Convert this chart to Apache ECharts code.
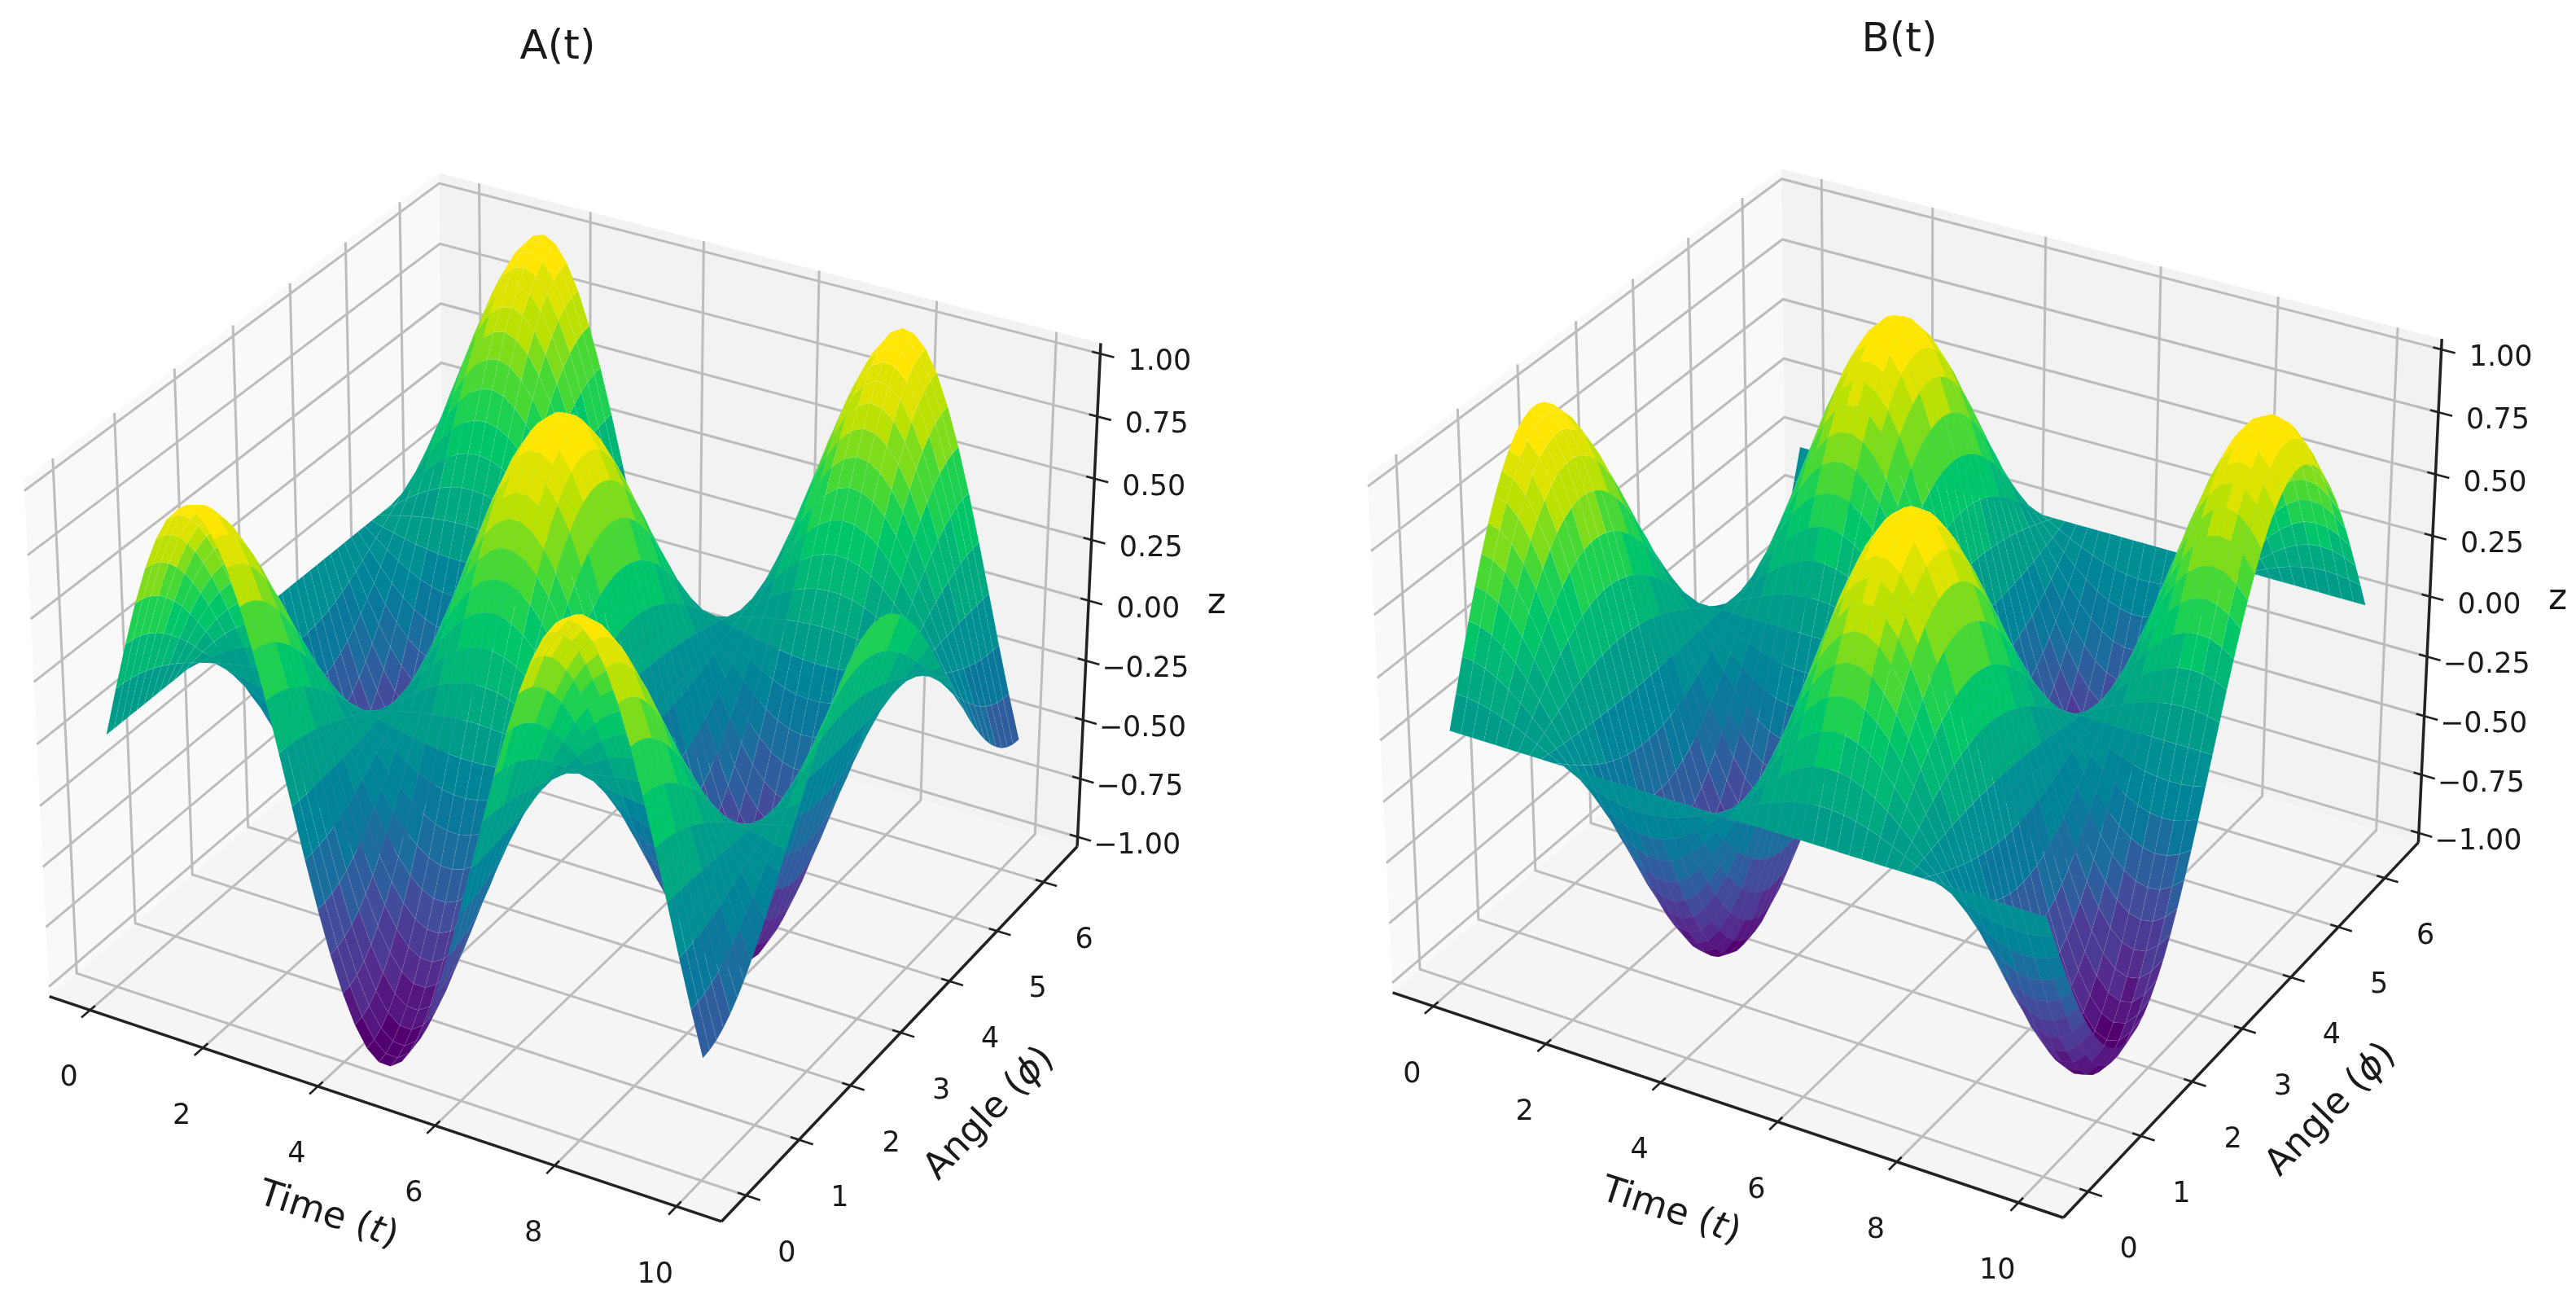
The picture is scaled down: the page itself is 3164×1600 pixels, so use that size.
<!DOCTYPE html>
<html>
<head>
<meta charset="utf-8">
<title>A(t) and B(t)</title>
<script src="https://cdn.jsdelivr.net/npm/echarts@6/dist/echarts.min.js"></script>
<style>
  html, body { margin: 0; padding: 0; background: #fff; }
  #chart { width: 3164px; height: 1600px; }
</style>
</head>
<body>
<div id="chart"></div>
<script>
// sample positions along the two axes
var timeSamples = [0,0.2,0.4,0.6,0.8,1,1.2,1.4,1.6,1.8,2,2.2,2.4,2.6,2.8,3,3.2,3.4,3.6,3.8,4,4.2,4.4,4.6,4.8,5,5.2,5.4,5.6,5.8,6,6.2,6.4,6.6,6.8,7,7.2,7.4,7.6,7.8,8,8.2,8.4,8.6,8.8,9,9.2,9.4,9.6,9.8,10];
var angleSamples = [0,0.126,0.251,0.377,0.503,0.628,0.754,0.88,1.005,1.131,1.257,1.382,1.508,1.634,1.759,1.885,2.011,2.136,2.262,2.388,2.513,2.639,2.765,2.89,3.016,3.142,3.267,3.393,3.519,3.644,3.77,3.896,4.021,4.147,4.273,4.398,4.524,4.65,4.775,4.901,5.027,5.152,5.278,5.404,5.529,5.655,5.781,5.906,6.032,6.158,6.283];

// A(t): height profile along time and along angle, the surface is their product
var aTimeProfile = [0,0.199,0.389,0.565,0.717,0.841,0.932,0.985,1,0.974,0.909,0.808,0.675,0.516,0.335,0.141,-0.058,-0.256,-0.443,-0.612,-0.757,-0.872,-0.952,-0.994,-0.996,-0.959,-0.883,-0.773,-0.631,-0.465,-0.279,-0.083,0.117,0.312,0.494,0.657,0.794,0.899,0.968,0.999,0.989,0.941,0.855,0.735,0.585,0.412,0.223,0.025,-0.175,-0.366,-0.544];
var aAngleProfile = [1,0.992,0.969,0.93,0.876,0.809,0.729,0.637,0.536,0.426,0.309,0.187,0.063,-0.063,-0.187,-0.309,-0.426,-0.536,-0.637,-0.729,-0.809,-0.876,-0.93,-0.969,-0.992,-1,-0.992,-0.969,-0.93,-0.876,-0.809,-0.729,-0.637,-0.536,-0.426,-0.309,-0.187,-0.063,0.063,0.187,0.309,0.426,0.536,0.637,0.729,0.809,0.876,0.93,0.969,0.992,1];

// B(t): same idea
var bTimeProfile = [1,0.98,0.921,0.825,0.697,0.54,0.362,0.17,-0.029,-0.227,-0.416,-0.589,-0.737,-0.857,-0.942,-0.99,-0.998,-0.967,-0.897,-0.791,-0.654,-0.49,-0.307,-0.112,0.087,0.284,0.469,0.635,0.776,0.886,0.96,0.997,0.993,0.95,0.869,0.754,0.608,0.439,0.251,0.054,-0.146,-0.34,-0.519,-0.677,-0.811,-0.911,-0.975,-0.999,-0.985,-0.929,-0.839];
var bAngleProfile = [0,0.125,0.249,0.368,0.482,0.588,0.685,0.771,0.844,0.905,0.951,0.982,0.998,0.998,0.982,0.951,0.905,0.844,0.771,0.685,0.588,0.482,0.368,0.249,0.125,0,-0.125,-0.249,-0.368,-0.482,-0.588,-0.685,-0.771,-0.844,-0.905,-0.951,-0.982,-0.998,-0.998,-0.982,-0.951,-0.905,-0.844,-0.771,-0.685,-0.588,-0.482,-0.368,-0.249,-0.125,0];

var timeTicks = [0,2,4,6,8,10];
var angleTicks = [0,1,2,3,4,5,6];
var zTicks = [-1,-0.75,-0.5,-0.25,0,0.25,0.5,0.75,1];
var zTickLabels = ['\u22121.00','\u22120.75','\u22120.50','\u22120.25','0.00','0.25','0.50','0.75','1.00'];

// viridis as it looks in the picture, a bit more saturated than the stock map
var surfaceColors = ['#520070','#552a8c','#45489a','#1f6a9e','#007f9a','#00958f','#00ae7c','#00cb66','#4fd92e','#c0e100','#ffe600'];
var colorLevels = 20;

var FONT = '"DejaVu Sans"';
var X_LIM = [-0.5, 10.5], Y_LIM = [-0.314, 6.597], Z_LIM = [-1, 1];
var BOX = [1.1905, 1.1905, 0.8929];

// same camera as a default matplotlib 3d axes: elev 30, azim -60, dist 10
function project(x, y, z) {
    var qx = ((x - X_LIM[0]) / (X_LIM[1] - X_LIM[0]) - 0.5) * BOX[0];
    var qy = ((y - Y_LIM[0]) / (Y_LIM[1] - Y_LIM[0]) - 0.5) * BOX[1];
    var qz = ((z - Z_LIM[0]) / (Z_LIM[1] - Z_LIM[0]) - 0.5) * BOX[2];
    var vx = 0.8660 * qx + 0.5 * qy;
    var vy = -0.25 * qx + 0.4330 * qy + 0.8660 * qz;
    var depth = 0.4330 * qx - 0.75 * qy + 0.5 * qz;
    return [vx / (10 - depth), vy / (10 - depth), depth];
}

function hexToRgb(h) {
    return [parseInt(h.substr(1, 2), 16), parseInt(h.substr(3, 2), 16), parseInt(h.substr(5, 2), 16)];
}

function colorFor(z) {
    var f = (z + 1) / 2;
    var lvl = Math.min(colorLevels - 1, Math.floor(f * colorLevels));
    f = lvl / (colorLevels - 1);
    var p = f * (surfaceColors.length - 1), i = Math.floor(p), k = p - i;
    var a = hexToRgb(surfaceColors[i]), b = hexToRgb(surfaceColors[Math.min(i + 1, surfaceColors.length - 1)]);
    return 'rgb(' + Math.round(a[0] + (b[0] - a[0]) * k) + ',' + Math.round(a[1] + (b[1] - a[1]) * k) + ',' + Math.round(a[2] + (b[2] - a[2]) * k) + ')';
}

function buildCells(timeProfile, angleProfile) {
    var cells = [];
    for (var i = 0; i < timeSamples.length - 1; i++) {
        for (var j = 0; j < angleSamples.length - 1; j++) {
            var corners = [[i, j], [i + 1, j], [i + 1, j + 1], [i, j + 1]].map(function (c) {
                return project(timeSamples[c[0]], angleSamples[c[1]], timeProfile[c[0]] * angleProfile[c[1]]);
            });
            var zMean = (timeProfile[i] * angleProfile[j] + timeProfile[i + 1] * angleProfile[j] +
                timeProfile[i + 1] * angleProfile[j + 1] + timeProfile[i] * angleProfile[j + 1]) / 4;
            var dMean = (corners[0][2] + corners[1][2] + corners[2][2] + corners[3][2]) / 4;
            cells.push({ corners: corners, color: colorFor(zMean), depth: dMean });
        }
    }
    cells.sort(function (a, b) { return a.depth - b.depth; });
    return cells;
}

function buildFrame(p) {
    var xd = (X_LIM[1] - X_LIM[0]) / 48, yd = (Y_LIM[1] - Y_LIM[0]) / 48, zd = (Z_LIM[1] - Z_LIM[0]) / 48;
    var x0 = X_LIM[0] - xd, x1 = X_LIM[1] + xd, y0 = Y_LIM[0] - yd, y1 = Y_LIM[1] + yd, z0 = Z_LIM[0] - zd, z1 = Z_LIM[1] + zd;
    var xr = x1 - x0, yr = y1 - y0;
    var items = [];
    function poly(pts, fill) { items.push({ kind: 'poly', pts: pts, fill: fill }); }
    function line(pts, color, w) { items.push({ kind: 'line', pts: pts, color: color, w: w }); }
    function text(at, dx, dy, str, size, rot, rich) { items.push({ kind: 'text', pts: [at], dx: dx, dy: dy, str: str, size: size, rot: rot || 0, rich: rich }); }

    poly([[x0, y0, z0], [x0, y1, z0], [x0, y1, z1], [x0, y0, z1]], '#f9f9f9');
    poly([[x0, y1, z0], [x1, y1, z0], [x1, y1, z1], [x0, y1, z1]], '#f2f2f2');
    poly([[x0, y0, z0], [x1, y0, z0], [x1, y1, z0], [x0, y1, z0]], '#f5f5f5');

    var gridColor = '#bcbcbc', gridW = 3, ink = '#222';
    timeTicks.forEach(function (t) { line([[t, y0, z0], [t, y1, z0], [t, y1, z1]], gridColor, gridW); });
    angleTicks.forEach(function (a) { line([[x1, a, z0], [x0, a, z0], [x0, a, z1]], gridColor, gridW); });
    zTicks.forEach(function (z) { line([[x0, y0, z], [x0, y1, z], [x1, y1, z]], gridColor, gridW); });

    line([[x0, y0, z0], [x1, y0, z0]], ink, 3.5);
    line([[x1, y0, z0], [x1, y1, z0]], ink, 3.5);
    line([[x1, y1, z0], [x1, y1, z1]], ink, 3.5);

    timeTicks.forEach(function (t) {
        line([[t, y0 + yr * 0.012, z0], [t, y0 - yr * 0.02, z0]], ink, 2.6);
        text([t, y0, z0], -26, 84, String(t), 35);
    });
    angleTicks.forEach(function (a) {
        line([[x1 - xr * 0.012, a, z0], [x1 + xr * 0.02, a, z0]], ink, 2.6);
        text([x1, a, z0], 50, 72, String(a), 35);
    });
    zTicks.forEach(function (z, i) {
        line([[x1 - xr * 0.012, y1, z], [x1 + xr * 0.02, y1, z]], ink, 2.6);
        text([x1, y1, z], 73, 11, zTickLabels[i], 35);
    });

    var rich = {
        n: { fontFamily: FONT, fontSize: 45, fill: '#1a1a1a' },
        i: { fontFamily: FONT, fontSize: 45, fill: '#1a1a1a', fontStyle: 'italic' }
    };
    text([(x0 + x1) / 2, y0, z0], -59, 135, '{n|Time (}{i|t}{n|)}', 45, -18 * Math.PI / 180, rich);
    text([x1, (y0 + y1) / 2, z0], 101, 109, '{n|Angle (}{i|\u03d5}{n|)}', 45, 46 * Math.PI / 180, rich);
    text([x1, y1, (z0 + z1) / 2], 157, 4, 'z', 44);
    return items;
}

var panels = [
    { name: 'A(t)', cx: 704, cy: 824, kx: 7623, ky: 7771, left: 0, time: aTimeProfile, angle: aAngleProfile, titleX: 680, titleY: 54 },
    { name: 'B(t)', cx: 2352.6, cy: 819, kx: 7607, ky: 7775, left: 1582, time: bTimeProfile, angle: bAngleProfile, titleX: 2328, titleY: 45 }
];
var panelW = 1582, panelH = 1600;

var option = { animation: false, backgroundColor: '#fff', title: [], grid: [], xAxis: [], yAxis: [], series: [] };

panels.forEach(function (p, n) {
    option.title.push({
        text: p.name, left: p.titleX, top: p.titleY, textAlign: 'center', textVerticalAlign: 'middle',
        textStyle: { fontFamily: FONT, fontSize: 50, fontWeight: 'normal', color: '#1a1a1a' }
    });
    option.grid.push({ left: p.left, top: 0, width: panelW, height: panelH });
    option.xAxis.push({ type: 'value', gridIndex: n, show: false, min: (p.left - p.cx) / p.kx, max: (p.left + panelW - p.cx) / p.kx });
    option.yAxis.push({ type: 'value', gridIndex: n, show: false, min: (p.cy - panelH) / p.ky, max: p.cy / p.ky });

    var frame = buildFrame(p);
    option.series.push({
        type: 'custom', name: p.name + ' frame', coordinateSystem: 'cartesian2d', xAxisIndex: n, yAxisIndex: n,
        silent: true, clip: false, z: 1, progressive: 0,
        data: frame.map(function (f) { var v = project(f.pts[0][0], f.pts[0][1], f.pts[0][2]); return [v[0], v[1]]; }),
        renderItem: function (params, api) {
            var f = frame[params.dataIndex];
            var pts = f.pts.map(function (q) { var v = project(q[0], q[1], q[2]); return api.coord([v[0], v[1]]); });
            if (f.kind === 'poly') {
                return { type: 'polygon', shape: { points: pts }, style: { fill: f.fill } };
            }
            if (f.kind === 'line') {
                return { type: 'polyline', shape: { points: pts }, style: { stroke: f.color, lineWidth: f.w, fill: null } };
            }
            return {
                type: 'text', x: pts[0][0] + f.dx, y: pts[0][1] + f.dy, rotation: f.rot,
                style: { text: f.str, rich: f.rich, fontFamily: FONT, fontSize: f.size, fill: '#1a1a1a', align: 'center', verticalAlign: 'middle' }
            };
        }
    });

    var cells = buildCells(p.time, p.angle);
    option.series.push({
        type: 'custom', name: p.name, coordinateSystem: 'cartesian2d', xAxisIndex: n, yAxisIndex: n,
        silent: true, clip: false, z: 2, progressive: 0,
        data: cells.map(function (c) { return [c.corners[0][0], c.corners[0][1]]; }),
        renderItem: function (params, api) {
            var c = cells[params.dataIndex];
            return {
                type: 'polygon',
                shape: { points: c.corners.map(function (v) { return api.coord([v[0], v[1]]); }) },
                // faint mesh, the cell seams that show in the picture
                style: { fill: c.color, stroke: 'rgba(255,255,255,0.07)', lineWidth: 0.8 }
            };
        }
    });
});

var myChart = echarts.init(document.getElementById('chart'));
myChart.setOption(option);
</script>
</body>
</html>
